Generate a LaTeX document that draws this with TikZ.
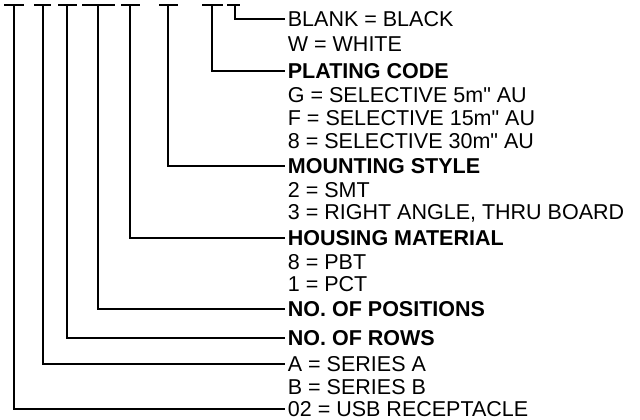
\documentclass[tikz,border=0pt]{standalone}
\usepackage{fontspec}
\setmainfont{Liberation Sans}
\begin{document}
\begin{tikzpicture}[x=1bp,y=-1bp,line width=1.8bp,
	lbl/.style={anchor=west,inner xsep=2bp,inner ysep=0.5bp,font=\fontsize{21.5bp}{24bp}\selectfont},
	head/.style={lbl,font=\fontsize{21.5bp}{24bp}\selectfont\bfseries}]
	\useasboundingbox (0,0) rectangle (640,419);
	% tops of the code positions
	\coordinate (p1) at (14,5);
	\coordinate (p2) at (43,5);
	\coordinate (p3) at (67,5);
	\coordinate (p4) at (98,5);
	\coordinate (p5) at (130,5);
	\coordinate (p6) at (168,5);
	\coordinate (p7) at (212,5);
	\coordinate (p8) at (235,5);
	\draw (4,5)--(24,5) (34,5)--(51,5) (58,5)--(77,5) (82,5)--(115,5)
		(121,5)--(140,5) (159,5)--(178,5) (202,5)--(223,5) (227,5)--(240,5);
	% labels
	\node[lbl] (lBlank) at (285,19) {BLANK = BLACK};
	\node[lbl] (lWhite) at (285,44) {W = WHITE};
	\node[head] (lPlate) at (285,71) {PLATING CODE};
	\node[lbl] (lG) at (285,95) {G = SELECTIVE 5m\textquotedbl{} AU};
	\node[lbl] (lF) at (285,118) {F = SELECTIVE 15m\textquotedbl{} AU};
	\node[lbl] (lEight) at (285,141) {8 = SELECTIVE 30m\textquotedbl{} AU};
	\node[head] (lMount) at (285,166) {MOUNTING STYLE};
	\node[lbl] (lSmt) at (285,190) {2 = SMT};
	\node[lbl] (lRight) at (285,213) {3 = RIGHT ANGLE, THRU BOARD};
	\node[head] (lHouse) at (285,238) {HOUSING MATERIAL};
	\node[lbl] (lPbt) at (285,262) {8 = PBT};
	\node[lbl] (lPct) at (285,284) {1 = PCT};
	\node[head] (lPos) at (285,309) {NO. OF POSITIONS};
	\node[head] (lRows) at (285,338) {NO. OF ROWS};
	\node[lbl] (lSeries) at (285,364) {A = SERIES A};
	\node[lbl] (lSerB) at (285,387) {B = SERIES B};
	\node[lbl] (lUsb) at (285,409) {02 = USB RECEPTACLE};
	% leaders
	\draw (p8) |- (lBlank.west);
	\draw (p7) |- (lPlate.west);
	\draw (p6) |- (lMount.west);
	\draw (p5) |- (lHouse.west);
	\draw (p4) |- (lPos.west);
	\draw (p3) |- (lRows.west);
	\draw (p2) |- (lSeries.west);
	\draw (p1) |- (lUsb.west);
\end{tikzpicture}
\end{document}
